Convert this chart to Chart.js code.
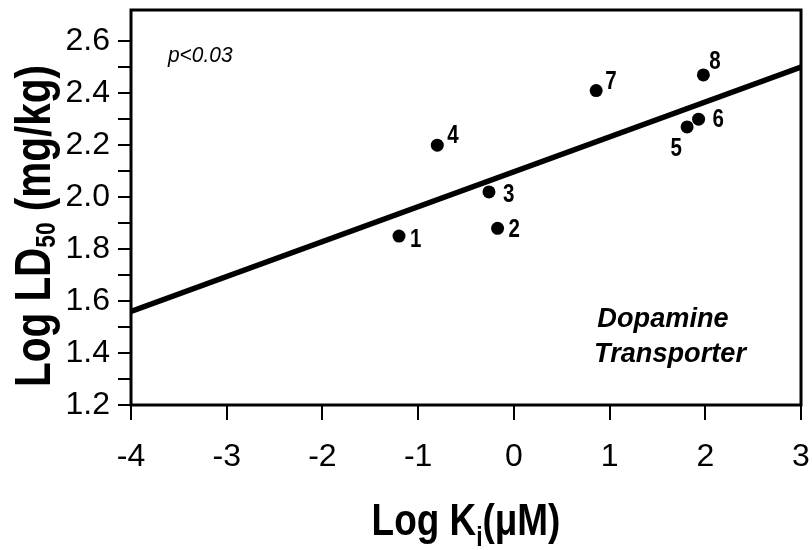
<!DOCTYPE html>
<html><head><meta charset="utf-8">
<script src="https://cdn.jsdelivr.net/npm/chart.js@4.4.0/dist/chart.umd.min.js"></script>
<style>html,body{margin:0;padding:0;background:#fff}#wrap{width:812px;height:550px}</style>
</head><body><div id="wrap"><canvas id="c" width="812" height="550"></canvas></div>
<script>
// ---- data ----
const compoundIds = ['1','2','3','4','5','6','7','8'];
const logKi   = [-1.20, -0.17, -0.26, -0.80, 1.81, 1.93, 0.86, 1.98];
const logLD50 = [ 1.85,  1.88,  2.02,  2.20, 2.27, 2.30, 2.41, 2.47];
const fitX = [-4, 3];
const fitY = [1.56, 2.50];
const xTicks = [-4, -3, -2, -1, 0, 1, 2, 3];
const xTickLabels = ['-4','-3','-2','-1','0','1','2','3'];
const yTicks = [1.2,1.3,1.4,1.5,1.6,1.7,1.8,1.9,2.0,2.1,2.2,2.3,2.4,2.5,2.6];
const yTickLabels = ['1.2','','1.4','','1.6','','1.8','','2.0','','2.2','','2.4','','2.6'];
const xTitleParts = ['Log K', 'i', '(\u03bcM)'];
const yTitleParts = ['Log LD', '50', ' (mg/kg)'];
const pValueText = 'p<0.03';
const panelLines = ['Dopamine', 'Transporter'];

// ---- styles ----
const SANS = '"Liberation Sans", Arial, "Helvetica Neue", sans-serif';
const CONDENSE = 0.82;
// label offsets relative to each point: [dx, dy(baseline), align]
const labelOffsets = [[11,11,'left'],[11,9,'left'],[14,10,'left'],[10,-2,'left'],[-11,29,'center'],[14,8,'left'],[9,-2,'left'],[6,-6,'left']];

function drawParts(ctx, parts, mainFont, subFont, subShift, k) {
  ctx.font = mainFont; const w0 = ctx.measureText(parts[0]).width; const w2 = ctx.measureText(parts[2]).width;
  ctx.font = subFont; const w1 = ctx.measureText(parts[1]).width;
  ctx.scale(k, 1);
  let x = -(w0 + w1 + w2) / 2;
  ctx.textAlign = 'left'; ctx.textBaseline = 'alphabetic';
  ctx.font = mainFont; ctx.fillText(parts[0], x, 0); x += w0;
  ctx.font = subFont; ctx.fillText(parts[1], x, subShift); x += w1;
  ctx.font = mainFont; ctx.fillText(parts[2], x, 0);
}

function fillCondensed(ctx, text, x, y, k, align) {
  ctx.save(); ctx.translate(x, y); ctx.scale(k, 1); ctx.textAlign = align; ctx.fillText(text, 0, 0); ctx.restore();
}

const framePlugin = {
  id: 'frame',
  afterDatasetsDraw(chart) {
    const {ctx, chartArea: a} = chart;
    ctx.save(); ctx.strokeStyle = '#000'; ctx.lineWidth = 3;
    ctx.strokeRect(a.left, a.top, a.right - a.left, a.bottom - a.top);
    ctx.restore();
  }
};

const textPlugin = {
  id: 'texts',
  afterDraw(chart) {
    const {ctx, chartArea: a} = chart;
    ctx.save(); ctx.fillStyle = '#000'; ctx.textBaseline = 'alphabetic';
    // point labels
    const meta = chart.getDatasetMeta(1);
    ctx.font = 'bold 25px ' + SANS;
    meta.data.forEach((pt, i) => {
      const o = labelOffsets[i];
      fillCondensed(ctx, compoundIds[i], pt.x + o[0], pt.y + o[1], CONDENSE, o[2]);
    });
    // p value
    ctx.font = 'italic 22px ' + SANS;
    fillCondensed(ctx, pValueText, a.left + 37, a.top + 52, 0.95, 'left');
    // panel label
    ctx.font = 'italic bold 28px ' + SANS;
    fillCondensed(ctx, panelLines[0], 663, 327, 0.97, 'center');
    fillCondensed(ctx, panelLines[1], 670, 362, 0.97, 'center');
    // x title
    ctx.save(); ctx.translate((a.left + a.right) / 2, 535);
    drawParts(ctx, xTitleParts, 'bold 45px ' + SANS, 'bold 28px ' + SANS, 11, CONDENSE);
    ctx.restore();
    // y title
    ctx.save(); ctx.translate(50, 226); ctx.rotate(-Math.PI / 2);
    drawParts(ctx, yTitleParts, 'bold 50px ' + SANS, 'bold 28px ' + SANS, 5, 0.81);
    ctx.restore();
    ctx.restore();
  }
};

new Chart(document.getElementById('c'), {
  type: 'scatter',
  data: {
    datasets: [
      { type: 'line', data: fitX.map((x, i) => ({x, y: fitY[i]})), borderColor: '#000', borderWidth: 5.5,
        pointRadius: 0, fill: false, tension: 0, order: 2 },
      { type: 'scatter', data: logKi.map((x, i) => ({x, y: logLD50[i]})), backgroundColor: '#000',
        borderColor: '#000', borderWidth: 0, pointRadius: 6.5, order: 1 }
    ]
  },
  options: {
    animation: false, responsive: false, devicePixelRatio: 1,
    layout: { padding: { left: 0, right: 11, top: 10, bottom: 0 } },
    plugins: { legend: { display: false }, tooltip: { enabled: false }, title: { display: false } },
    scales: {
      x: {
        type: 'linear', min: -4, max: 3,
        afterBuildTicks: s => { s.ticks = xTicks.map(v => ({value: v})); },
        afterFit: s => { s.height = 145; s.paddingLeft = 0; s.paddingRight = 0; },
        ticks: { callback: v => xTickLabels[xTicks.indexOf(v)], font: { family: SANS, size: 32 }, color: '#000',
                 padding: 18, maxRotation: 0, autoSkip: false },
        grid: { drawOnChartArea: false, drawTicks: true, tickLength: 15, color: '#000', lineWidth: 2 },
        border: { display: false }
      },
      y: {
        type: 'linear', min: 1.2, max: 2.72,
        afterBuildTicks: s => { s.ticks = yTicks.map(v => ({value: v})); },
        afterFit: s => { s.width = 131; s.paddingTop = 0; s.paddingBottom = 0; },
        ticks: { callback: v => yTickLabels[yTicks.indexOf(v)], font: { family: SANS, size: 32 }, color: '#000',
                 padding: 8, autoSkip: false },
        grid: { drawOnChartArea: false, drawTicks: true, tickLength: 13, color: '#000', lineWidth: 2 },
        border: { display: false }
      }
    }
  },
  plugins: [framePlugin, textPlugin]
});
</script></body></html>
